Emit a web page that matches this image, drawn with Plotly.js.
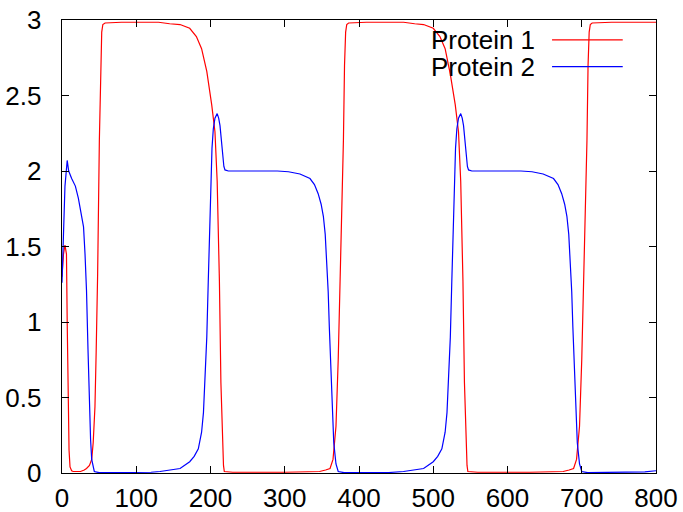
<!DOCTYPE html>
<html>
<head>
<meta charset="utf-8">
<script src="https://cdn.plot.ly/plotly-3.0.1.min.js"></script>
<style>html,body{margin:0;padding:0;background:#fff;}#chart{width:683px;height:512px;}</style>
</head>
<body>
<div id="chart"></div>
<script>
// Protein 1 (red)
const t1 = [0,2,4,6,7,8.5,9.5,10.8,13,15,25,30,33,37,40,42,44.4,46,48,50.3,52,53.5,55,58,80,130,145,159,172,181,188,195,201.6,206,209,212,214,216,217.5,218.6,230,300,330,347,355,361,365,369,372,374.4,376.7,379,380.5,382,383.5,386,410,460,475,487,500,509,516,523,529.6,534,537,540,542,544,545.5,546.6,560,630,660,675,683,689,693,697,700,702.4,704.7,707,708.5,710,711.5,714,740,800];
const p1 = [1.30,1.45,1.51,1.45,1.0,0.44,0.15,0.04,0.015,0.01,0.01,0.02,0.03,0.05,0.09,0.2,0.44,0.8,1.32,2.2,2.7,2.92,2.97,2.98,2.985,2.985,2.975,2.97,2.945,2.89,2.81,2.66,2.44,2.26,1.93,1.27,0.6,0.17,0.05,0.01,0.005,0.005,0.01,0.01,0.02,0.03,0.09,0.31,0.75,1.19,1.74,2.2,2.7,2.92,2.97,2.98,2.985,2.985,2.975,2.97,2.945,2.89,2.81,2.64,2.44,2.26,1.93,1.27,0.6,0.17,0.05,0.01,0.005,0.005,0.01,0.01,0.02,0.03,0.09,0.31,0.75,1.19,1.74,2.2,2.7,2.92,2.97,2.98,2.985,2.985];
// Protein 2 (blue)
const t2 = [0,2,4,7,9,13,18,22,26,29,31,33,35,37,38.5,40,42,43.5,50,100,120,132,145,159,172,178,183.6,188,190.5,192.6,195,197,200,202,203.8,206,209,211,212.8,214.5,216,218,219.5,224,290,305,320.5,334,340,345,349,352,354.5,356.5,358.5,360,363,366,369,372,380,440,460,473,487,500,506,511.6,516,518.5,520.6,523,525,528,530,531.8,534,537,539,540.8,542.5,544,546,547.5,552,618,633,648,662,668,673,677,680,682.5,684.5,686.5,688,691,694,697,700,708,770,785,800];
const p2 = [1.26,1.6,1.9,2.07,2.0,1.95,1.9,1.82,1.72,1.63,1.45,1.21,0.82,0.44,0.22,0.09,0.03,0.01,0.002,0.002,0.005,0.01,0.02,0.03,0.075,0.11,0.16,0.27,0.4,0.6,0.9,1.27,1.93,2.15,2.28,2.35,2.38,2.35,2.3,2.2,2.1,2.03,2.007,2.0,2.0,1.995,1.98,1.95,1.91,1.85,1.78,1.70,1.58,1.41,1.2,0.97,0.53,0.2,0.06,0.01,0.002,0.003,0.01,0.02,0.03,0.075,0.11,0.16,0.27,0.4,0.6,0.9,1.27,1.93,2.15,2.28,2.35,2.38,2.35,2.3,2.2,2.1,2.03,2.007,2.0,2.0,1.995,1.98,1.95,1.91,1.85,1.78,1.70,1.58,1.41,1.2,0.97,0.53,0.2,0.06,0.01,0.002,0.003,0.008,0.015];
const seriesNames = ["Protein 1", "Protein 2"];
const xTicks = [0,100,200,300,400,500,600,700,800];
const yTicks = [0,0.5,1,1.5,2,2.5,3];

const FONT = "Liberation Sans, Arial, sans-serif";
const traces = [
  {x: t1, y: p1, mode: "lines", name: seriesNames[0], line: {color: "#ff0000", width: 1.2}, showlegend: false},
  {x: t2, y: p2, mode: "lines", name: seriesNames[1], line: {color: "#0000ff", width: 1.2}, showlegend: false}
];
const axisCommon = {
  showline: true, linecolor: "#000", linewidth: 1.3, mirror: "ticks",
  ticks: "inside", ticklen: 7, tickwidth: 1, tickcolor: "#000",
  showgrid: false, zeroline: false,
  tickfont: {family: FONT, size: 26, color: "#000"}
};
const layout = {
  width: 683, height: 512,
  margin: {l: 62, r: 27, t: 20, b: 39},
  paper_bgcolor: "#fff", plot_bgcolor: "#fff",
  showlegend: false,
  xaxis: Object.assign({}, axisCommon, {range: [0, 800], tickvals: xTicks, ticktext: xTicks.map(String), ticklabelstandoff: 1}),
  yaxis: Object.assign({}, axisCommon, {range: [0, 3], tickvals: yTicks, ticktext: yTicks.map(String), ticklabelstandoff: 14}),
  annotations: [
    {xref: "paper", yref: "paper", x: 0.799, y: 0.956, xanchor: "right", yanchor: "middle", text: seriesNames[0], showarrow: false, font: {family: FONT, size: 26, color: "#000"}},
    {xref: "paper", yref: "paper", x: 0.799, y: 0.897, xanchor: "right", yanchor: "middle", text: seriesNames[1], showarrow: false, font: {family: FONT, size: 26, color: "#000"}}
  ],
  shapes: [
    {type: "line", xref: "paper", yref: "paper", x0: 0.825, x1: 0.944, y0: 0.956, y1: 0.956, line: {color: "#ff0000", width: 1.2}},
    {type: "line", xref: "paper", yref: "paper", x0: 0.825, x1: 0.944, y0: 0.897, y1: 0.897, line: {color: "#0000ff", width: 1.2}}
  ]
};
Plotly.newPlot("chart", traces, layout, {displayModeBar: false, staticPlot: true});
</script>
</body>
</html>
